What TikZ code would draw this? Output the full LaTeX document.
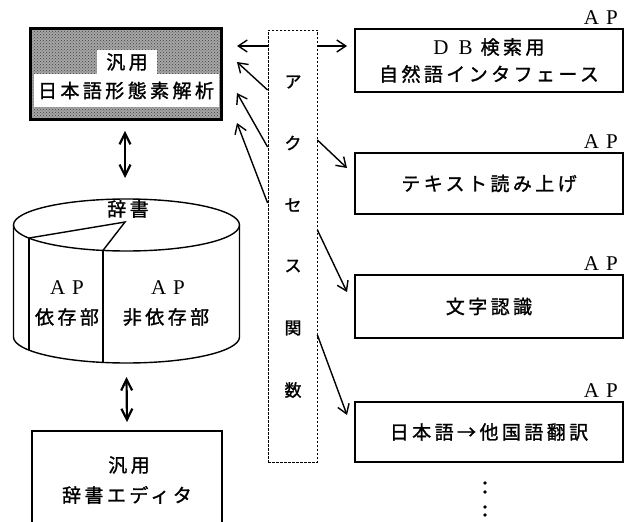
\documentclass[tikz,border=0pt]{standalone}
\usepackage{fontspec}
\usetikzlibrary{arrows.meta,patterns}
\newfontfamily\jp{Noto Sans CJK JP}[LetterSpace=18,FakeBold=1.3]
\newfontfamily\ser{Liberation Serif}
\tikzset{
  jtext/.style={font=\jp\fontsize{19}{27}\selectfont, inner sep=0pt, align=center},
  ctext/.style={font=\jp\fontsize{17}{17}\selectfont, inner sep=0pt},
  box/.style={draw, line width=1.8pt, rectangle, inner sep=0pt},
  aptext/.style={font=\ser\fontsize{21}{21}\selectfont, inner sep=0pt},
  arr/.style={line width=1.4pt, -{Straight Barb[length=9pt,width=12pt,line width=1.4pt]}},
  darr/.style={line width=2.2pt, {Straight Barb[length=11pt,width=11pt]}-{Straight Barb[length=11pt,width=11pt]}},
  colbox/.style={draw, line width=0.8pt, dash pattern=on 2.5pt off 1.5pt},
  cyl/.style={line width=1.4pt}
}
\newcommand{\APlbl}{A\hspace{7pt}P}
\begin{document}
\begin{tikzpicture}[x=1pt,y=-1pt]
\clip (0,0) rectangle (627,522);
\fill[white] (0,0) rectangle (627,522);

% top-left box
\node[box, preaction={fill=black!35}, pattern=crosshatch dots, pattern color=black!75, minimum width=190pt, minimum height=90pt] (tl) at (126,74) {};
\node[jtext, fill=white, minimum width=60pt, minimum height=24pt] (tl1) at (127,62) {汎用};
\node[jtext, fill=white, minimum width=185pt, minimum height=33pt] (tl2) at (126,90.5) {日本語形態素解析};
\draw[line width=1.8pt] (tl.south west) rectangle (tl.north east);

% cylinder
\coordinate (cyltop) at (126.5,199);
\coordinate (cylbot) at (126.5,363);
\draw[cyl] (126.5,225) ellipse [x radius=113, y radius=26];
\draw[cyl] (13.5,225) -- (13.5,337) arc[start angle=180, end angle=0, x radius=113, y radius=26] -- (239.5,225);
\draw[cyl] (29,238) -- (29,350);
\draw[cyl] (103,250.4) -- (103,362.4);
\draw[cyl] (29,238) -- (125,222) -- (103,250.4);
\node[jtext] (jisho) at (128,209) {辞書};
\node[aptext] (apL) at (67,288) {\APlbl};
\node[jtext] (izon) at (67,317) {依存部};
\node[aptext] (apR) at (168,288) {\APlbl};
\node[jtext] (hiizon) at (166,317) {非依存部};

% editor box
\node[box, minimum width=190pt, minimum height=110pt] (ed) at (127,486) {};
\node[jtext] (ed1) at (129,465) {汎用};
\node[jtext] (ed2) at (127,495) {辞書エディタ};

% vertical double arrows
\draw[darr] ([xshift=-1pt,yshift=-11pt]tl.south) -- ([xshift=-1.5pt,yshift=21pt]cyltop);
\draw[darr] ([yshift=-14pt]cylbot) -- ([yshift=8pt]ed.north);

% access function column
\node[colbox, minimum width=49pt, minimum height=432pt] (col) at (292.5,246) {};
\node[ctext] (c1) at (293,82) {ア};
\node[ctext] (c2) at (293,143) {ク};
\node[ctext] (c3) at (293,205) {セ};
\node[ctext] (c4) at (293,266) {ス};
\node[ctext] (c5) at (293,328) {関};
\node[ctext] (c6) at (293,390) {数};

% right boxes
\node[box, jtext, minimum width=268pt, minimum height=63pt] (db) at (489,60.5)
  {{\ser\fontsize{21}{21}\selectfont D\hspace{10pt}B\hspace{8pt}}検索用\\自然語インタフェース};
\node[box, jtext, minimum width=268pt, minimum height=61pt] (tts) at (489,183.5) {テキスト読み上げ};
\node[box, jtext, minimum width=268pt, minimum height=63pt] (ocr) at (489,306.5) {文字認識};
\node[box, jtext, minimum width=268pt, minimum height=60pt] (mt) at (489,432) {日本語→他国語翻訳};
\foreach \n in {db,tts,ocr,mt}{
  \node[aptext, anchor=base east] (ap-\n) at ([xshift=-6pt,yshift=4pt]\n.north east) {\APlbl};
}

% arrows from column
\coordinate (eL1) at (237,46);
\coordinate (eL2) at (237,62);
\coordinate (eL3) at (237,93);
\coordinate (eL4) at (237,123);
\coordinate (eR1) at (347,46);
\coordinate (eR2) at (347,168);
\coordinate (eR3) at (347,292);
\coordinate (eR4) at (347,415);
\draw[arr] (col.west |- 0,46) -- (eL1);
\draw[arr] (col.west |- 0,90) -- (eL2);
\draw[arr] (col.west |- 0,147) -- (eL3);
\draw[arr] (col.west |- 0,203) -- (eL4);
\draw[arr] (col.east |- 0,46) -- (eR1);
\draw[arr] (col.east |- 0,140) -- (eR2);
\draw[arr] (col.east |- 0,230) -- (eR3);
\draw[arr] (col.east |- 0,335) -- (eR4);

% continuation dots
\foreach \yy in {483,492,507,515}{
  \fill (485,\yy) circle[radius=1.8pt];
}
\end{tikzpicture}
\end{document}
